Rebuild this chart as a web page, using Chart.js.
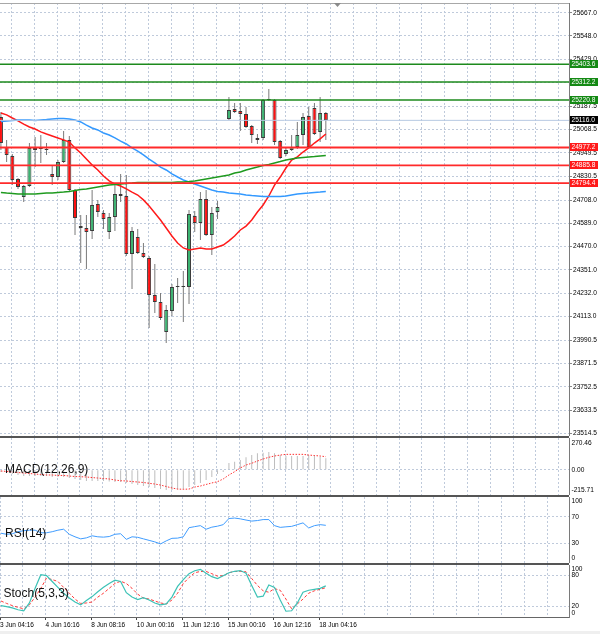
<!DOCTYPE html>
<html>
<head>
<meta charset="utf-8">
<script src="https://cdn.jsdelivr.net/npm/chart.js@4.4.0/dist/chart.umd.min.js"></script>
<style>
  html, body { margin: 0; padding: 0; background: #fff; }
  #wrap { position: relative; width: 600px; height: 634px; overflow: hidden; }
  #wrap canvas { position: absolute; left: 0; }
  #scroll { position: absolute; left: 0; top: 631px; width: 600px; height: 3px; background: #efefef; }
</style>
</head>
<body>
<div id="wrap">
  <canvas id="main" width="600" height="436" style="top:0"></canvas>
  <canvas id="macd" width="600" height="59" style="top:436px"></canvas>
  <canvas id="rsi" width="600" height="68" style="top:495px"></canvas>
  <canvas id="stoch" width="600" height="71" style="top:563px"></canvas>
  <div id="scroll"></div>
</div>
<script>
// ---- data (one entry per 4h bar, null = no bar) ----
const opens = [25133, 24980, 24934, 24816, 24724, 24780, 24975, 24970, 24970, 24842,
  24826, 24903, 25016, 24760, 24575, 24565, 24550, 24688, 24642, 24545,
  24622, 24739, 24729, 24432, 24519, 24437, 24412, 24222, 24187, 24033,
  24140, 24263, 24263, 24263, 24627, 24591, 24714, 24529, 24647, null,
  25123, 25174, 25164, 25149, 25087, 25016, 25026, 25220, 25220, 25010,
  24944, 24964, 24980, 25041, 25138, 25179, 25057, 25154];
const highs = [25159, 25016, 24944, 24821, 24785, 25000, 25031, 25041, 25000, 24888,
  24913, 25062, 25036, 24765, 24632, 24632, 24760, 24709, 24657, 24642,
  24785, 24841, 24836, 24570, 24560, 24488, 24422, 24381, 24233, 24171,
  24279, 24309, 24345, 24657, 24652, 24749, 24760, 24673, 24703, null,
  25236, 25205, 25205, 25184, 25092, 25046, 25225, 25277, 25225, 25016,
  24975, 25041, 25108, 25154, 25184, 25205, 25236, 25159];
const lows = [24964, 24903, 24785, 24765, 24698, 24775, 24877, 24898, 24939, 24785,
  24811, 24898, 24755, 24529, 24386, 24355, 24509, 24622, 24560, 24509,
  24550, 24698, 24422, 24253, 24432, 24412, 24053, 24130, 24094, 23977,
  24115, 24181, 24084, 24176, 24545, 24504, 24524, 24427, 24611, null,
  25118, 25154, 25062, 25077, 25000, 24995, 25016, 25215, 24990, 24918,
  24934, 24959, 24969, 24990, 24975, 25041, 25005, 25016];
const closes = [25000, 24939, 24811, 24775, 24780, 24975, 24964, 24970, 24964, 24826,
  24903, 25016, 24760, 24616, 24565, 24545, 24683, 24647, 24611, 24622,
  24739, 24729, 24432, 24550, 24437, 24417, 24222, 24187, 24105, 24146,
  24263, 24263, 24268, 24637, 24591, 24714, 24529, 24642, 24673, null,
  25169, 25159, 25149, 25082, 25041, 25026, 25220, 25225, 25005, 24923,
  24964, 24980, 25041, 25133, 24980, 25046, 25154, 25116];

const maRed = [25154, 25144, 25128, 25113, 25097, 25082, 25072, 25057, 25046, 25036,
  25026, 25016, 25005, 24975, 24949, 24918, 24888, 24862, 24831, 24806,
  24790, 24780, 24765, 24749, 24734, 24709, 24678, 24642, 24606, 24565,
  24524, 24488, 24463, 24453, 24458, 24463, 24458, 24458, 24468, 24478,
  24499, 24524, 24555, 24575, 24606, 24647, 24683, 24729, 24785, 24826,
  24872, 24913, 24929, 24954, 24975, 25000, 25021, 25046];
const maBlue = [25110, 25113, 25115, 25118, 25118, 25118, 25115, 25118, 25120, 25123,
  25126, 25126, 25123, 25118, 25108, 25092, 25077, 25067, 25051, 25041,
  25026, 25010, 24995, 24975, 24959, 24939, 24918, 24898, 24877, 24862,
  24842, 24826, 24811, 24801, 24790, 24780, 24770, 24760, 24752, 24749,
  24744, 24742, 24739, 24734, 24731, 24729, 24726, 24726, 24726, 24726,
  24729, 24734, 24739, 24742, 24744, 24747, 24749, 24752];
const maGreen = [24747, 24744, 24742, 24739, 24739, 24739, 24739, 24742, 24744, 24744,
  24747, 24749, 24752, 24757, 24762, 24765, 24770, 24775, 24780, 24785,
  24788, 24790, 24793, 24795, 24798, 24798, 24798, 24798, 24798, 24798,
  24798, 24801, 24801, 24803, 24806, 24811, 24816, 24821, 24826, 24831,
  24836, 24847, 24852, 24862, 24870, 24877, 24885, 24890, 24898, 24905,
  24913, 24918, 24923, 24926, 24929, 24931, 24934, 24936];

const greenLevels = [25403.6, 25312.2, 25220.8];
const redLevels = [24977.2, 24885.8, 24794.4];
const lastPrice = 25116.0;

const macdHist = [-20, -28, -37, -45, -54, -54, -54, -54, -54, -62,
  -62, -62, -71, -79, -88, -96, -96, -96, -96, -101,
  -105, -105, -113, -122, -131, -139, -148, -156, -165, -173,
  -173, -169, -165, -148, -131, -113, -88, -62, -37, -20,
  57, 68, 83, 106, 125, 140, 145, 151, 140, 125,
  117, 117, 117, 117, 125, 125, 111, 97];
const macdSignal = [-11, -15, -20, -24, -28, -32, -37, -41, -45, -45,
  -49, -49, -54, -58, -60, -62, -67, -71, -75, -79,
  -88, -94, -96, -101, -105, -109, -116, -122, -131, -143,
  -156, -165, -167, -165, -148, -139, -126, -113, -102, -79,
  -45, -17, 15, 40, 55, 74, 91, 106, 117, 125,
  131, 131, 131, 131, 125, 121, 117, 111];

const rsi = [45.1, 43.5, 44.3, 47.4, 48.9, 49.7, 49.7, 45.8, 45.8, 47.4,
  49.7, 51.2, 43.5, 39.7, 36.6, 38.1, 41.2, 39.7, 39.2, 40.1,
  43.5, 44.3, 35.8, 39.7, 38.9, 36.6, 34.3, 32.0, 28.9, 33.5,
  37.4, 37.7, 39.7, 53.5, 55.1, 56.6, 51.2, 54.3, 55.8, 58.1,
  67.4, 68.1, 66.9, 65.1, 63.5, 64.3, 65.8, 65.8, 56.6, 54.0,
  54.8, 55.5, 58.1, 60.8, 53.1, 56.6, 58.1, 57.1];

const stochMain = [21.8, 19.9, 17.6, 13.9, 12.0, 27.0, 55.1, 81.4, 79.5, 68.3,
  57.0, 45.8, 36.4, 28.9, 23.3, 31.7, 39.2, 48.6, 57.0, 64.5,
  70.7, 68.3, 46.7, 38.3, 33.6, 37.3, 32.6, 27.0, 23.3, 25.1,
  38.3, 58.9, 72.0, 83.3, 88.9, 91.7, 84.2, 77.6, 73.9, 79.5,
  85.1, 87.9, 89.3, 84.2, 60.8, 38.3, 40.1, 61.7, 57.0, 32.6,
  11.1, 12.0, 27.0, 47.6, 51.4, 53.3, 55.1, 59.8];
const stochSignal = [30.8, 26.1, 21.9, 18.6, 15.8, 23.3, 38.3, 55.1, 74.8, 72.0,
  68.3, 57.0, 45.8, 34.5, 26.1, 27.0, 28.9, 38.3, 45.8, 55.1,
  64.5, 68.8, 64.5, 55.1, 43.9, 36.4, 34.5, 30.8, 27.0, 25.1,
  32.6, 45.8, 64.5, 75.8, 85.1, 87.6, 87.6, 83.3, 78.6, 79.5,
  85.1, 87.6, 87.6, 87.0, 73.9, 60.8, 50.4, 47.6, 54.6, 51.4,
  34.5, 15.8, 25.1, 34.5, 45.8, 50.4, 53.3, 56.4];

const priceTicks = [25667.0, 25548.0, 25429.0, 25308.0, 25187.5, 25068.5, 24949.5, 24830.5,
  24708.0, 24589.0, 24470.0, 24351.0, 24232.0, 24113.0, 23990.5, 23871.5, 23752.5, 23633.5, 23514.5];
const hiddenPriceTicks = [25308.0];
const dateLabels = ['3 Jun 04:16', '4 Jun 16:16', '8 Jun 08:16', '10 Jun 00:16',
  '11 Jun 12:16', '15 Jun 00:16', '16 Jun 12:16', '18 Jun 04:16'];
const macdLabels = ['270.46', '0.00', '-215.71'];
const rsiLabels = ['100', '70', '30', '0'];
const stochLabels = ['100', '80', '20', '0'];

// ---- common styling ----
const FAMILY = '"Liberation Sans", Arial, sans-serif';
const FONT_SMALL = '6.6px ' + FAMILY;
const FONT_TITLE = '12px ' + FAMILY;
const GRID = '#bfcadb';
const X_MIN = -0.16, X_MAX = 99.66;
const UP = '#3cb371', DOWN = '#ff1010';

Chart.defaults.font.family = FAMILY;
Chart.defaults.animation = false;
Chart.defaults.events = [];
Chart.defaults.plugins.legend.display = false;
Chart.defaults.plugins.tooltip.enabled = false;

const series = arr => arr.map((v, i) => ({ x: i, y: v }));

// chart.js pads the plot so edge labels fit; the panels here must keep exact sizes
function noPad(s) {
  s.paddingTop = 0; s.paddingBottom = 0; s.paddingLeft = 0; s.paddingRight = 0;
}

function xScale(withLabels) {
  return {
    type: 'linear', min: X_MIN, max: X_MAX, offset: false,
    afterBuildTicks: s => {
      const t = [];
      for (let k = 0; k <= 24; k++) t.push({ value: k * 4 - 0.16 });
      s.ticks = t;
    },
    afterFit: s => { s.height = withLabels ? 17 : 0; noPad(s); },
    ticks: {
      display: withLabels, autoSkip: false, maxRotation: 0, align: 'start',
      padding: 1, color: '#000', font: { size: 6.5 },
      callback: (v, i) => (i % 2 === 0 && i / 2 < dateLabels.length) ? dateLabels[i / 2] : ''
    },
    grid: {
      color: GRID, drawTicks: withLabels, tickLength: 3,
      tickColor: c => (c.index % 2 === 0 && c.index / 2 < dateLabels.length) ? '#444' : 'rgba(0,0,0,0)'
    },
    border: { display: withLabels, color: '#666', dash: [2, 2] }
  };
}

function subY(min, max, tickVals, label) {
  return {
    position: 'right', min: min, max: max,
    afterBuildTicks: s => { s.ticks = tickVals.map(v => ({ value: v })); },
    afterFit: s => { s.width = 31; noPad(s); },
    ticks: { autoSkip: false, padding: 2.5, color: '#000', font: { size: 6.6 }, callback: label },
    grid: { color: GRID, drawTicks: false },
    border: { display: true, color: '#7a7a7a', dash: [2, 2] }
  };
}

function panelDeco(title, titleX, titleY, canvasTop, topLabel, topOff, botLabel, botOff) {
  return {
    id: 'panelDeco',
    afterDraw(chart) {
      const { ctx, chartArea: a } = chart;
      ctx.save();
      ctx.fillStyle = '#555';
      ctx.fillRect(0, a.top - 2, a.right, 2);
      ctx.fillStyle = '#000';
      ctx.textBaseline = 'middle';
      ctx.font = FONT_SMALL;
      ctx.fillText(topLabel, a.right + 2.5, a.top + topOff);
      ctx.fillText(botLabel, a.right + 2.5, a.bottom - botOff);
      ctx.font = FONT_TITLE;
      ctx.fillStyle = '#111';
      ctx.fillText(title, titleX, titleY - canvasTop);
      ctx.restore();
    }
  };
}

// ---- main price chart ----
const bodies = [], wicks = [];
opens.forEach((o, i) => {
  if (o === null) return;
  bodies.push({ x: i, y: [o, closes[i]] });
  wicks.push({ x: i, y: [lows[i], highs[i]] });
});
const candleColor = c => (c.raw && c.raw.y[1] >= c.raw.y[0]) ? UP : DOWN;

function levelLine(v, color, width) {
  return {
    type: 'line', data: [{ x: X_MIN, y: v }, { x: X_MAX, y: v }],
    borderColor: color, borderWidth: width, pointRadius: 0, order: 0
  };
}
function maLine(arr, color) {
  return { type: 'line', data: series(arr), borderColor: color, borderWidth: 1.5, pointRadius: 0, order: 0 };
}

const levelBoxes = greenLevels.map(v => [v, '#148a14'])
  .concat([[lastPrice, '#000']])
  .concat(redLevels.map(v => [v, '#ff1a1a']));

const mainDeco = {
  id: 'mainDeco',
  afterDraw(chart) {
    const { ctx, chartArea: a, scales: { y } } = chart;
    ctx.save();
    ctx.fillStyle = '#a8a8a8';
    ctx.fillRect(0, a.top, a.right, 1);
    ctx.fillStyle = '#8a8a8a';
    ctx.beginPath();
    ctx.moveTo(334, a.top); ctx.lineTo(341, a.top); ctx.lineTo(337.5, a.top + 4);
    ctx.fill();
    ctx.font = FONT_SMALL;
    ctx.textBaseline = 'middle';
    levelBoxes.forEach(([v, bg]) => {
      const py = y.getPixelForValue(v);
      ctx.fillStyle = bg;
      ctx.fillRect(a.right + 1, Math.round(py) - 4, 28, 8);
      ctx.fillStyle = '#fff';
      ctx.fillText(v.toFixed(1), a.right + 2.5, Math.round(py));
    });
    ctx.restore();
  }
};

new Chart(document.getElementById('main'), {
  type: 'bar',
  data: {
    datasets: [
      levelLine(lastPrice, '#b7c9e2', 1),
      ...greenLevels.map(v => levelLine(v, '#1d8a1d', 1.5)),
      ...redLevels.map(v => levelLine(v, '#ff2a2a', 1.8)),
      maLine(maGreen, '#1f9a1f'),
      maLine(maBlue, '#3399ff'),
      maLine(maRed, '#ff1a1a'),
      {
        type: 'bar', data: bodies, grouped: false, barThickness: 4, minBarLength: 1,
        backgroundColor: candleColor, borderColor: '#3a3a3a', borderWidth: 1,
        borderSkipped: false, inflateAmount: 0, order: 1
      },
      {
        type: 'bar', data: wicks, grouped: false, barThickness: 1,
        backgroundColor: '#7a7a7a', borderWidth: 0, inflateAmount: 0, order: 2
      }
    ]
  },
  options: {
    responsive: false,
    layout: { autoPadding: false, padding: { top: 3, left: 0, right: 0, bottom: 0 } },
    scales: {
      x: xScale(false),
      y: {
        position: 'right', min: 23500.7, max: 25716.6,
        afterBuildTicks: s => { s.ticks = priceTicks.map(v => ({ value: v })); },
        afterFit: s => { s.width = 31; noPad(s); },
        ticks: {
          autoSkip: false, padding: 1, color: '#000', font: { size: 6.6 },
          callback: v => hiddenPriceTicks.includes(v) ? '' : v.toFixed(1)
        },
        grid: { color: GRID, drawTicks: true, tickLength: 3, tickColor: '#888' },
        border: { display: true, color: '#7a7a7a', dash: [2, 2] }
      }
    }
  },
  plugins: [mainDeco]
});

// ---- MACD ----
new Chart(document.getElementById('macd'), {
  type: 'bar',
  data: {
    datasets: [
      {
        type: 'line', data: series(macdSignal), borderColor: '#ff3030', borderWidth: 1,
        borderDash: [1.5, 1.5], pointRadius: 0, order: 0
      },
      {
        type: 'bar', data: series(macdHist), grouped: false, barThickness: 1,
        backgroundColor: '#bdbdbd', borderWidth: 0, inflateAmount: 0, order: 1
      }
    ]
  },
  options: {
    responsive: false,
    layout: { autoPadding: false, padding: { top: 2, left: 0, right: 0, bottom: 0 } },
    scales: { x: xScale(false), y: subY(-215.71, 270.46, [0], () => macdLabels[1]) }
  },
  plugins: [panelDeco('MACD(12,26,9)', 5, 469.5, 436, macdLabels[0], 5, macdLabels[2], 5)]
});

// ---- RSI ----
new Chart(document.getElementById('rsi'), {
  type: 'line',
  data: {
    datasets: [{ data: series(rsi), borderColor: '#3f9cff', borderWidth: 1, pointRadius: 0 }]
  },
  options: {
    responsive: false,
    layout: { autoPadding: false, padding: { top: 2, left: 0, right: 0, bottom: 0 } },
    scales: { x: xScale(false), y: subY(0, 100, [70, 30], v => v === 70 ? rsiLabels[1] : rsiLabels[2]) }
  },
  plugins: [panelDeco('RSI(14)', 5, 534, 495, rsiLabels[0], 4, rsiLabels[3], 5)]
});

// ---- Stochastic ----
new Chart(document.getElementById('stoch'), {
  type: 'line',
  data: {
    datasets: [
      { data: series(stochMain), borderColor: '#3cc2b6', borderWidth: 1.2, pointRadius: 0 },
      { data: series(stochSignal), borderColor: '#ff3a3a', borderWidth: 1, borderDash: [3, 2], pointRadius: 0 }
    ]
  },
  options: {
    responsive: false,
    layout: { autoPadding: false, padding: { top: 2, left: 0, right: 0, bottom: 0 } },
    scales: { x: xScale(true), y: subY(0, 100, [80, 20], v => v === 80 ? stochLabels[1] : stochLabels[2]) }
  },
  plugins: [panelDeco('Stoch(5,3,3)', 3.5, 593.3, 563, stochLabels[0], 4.3, stochLabels[3], 4.3)]
});
</script>
</body>
</html>
